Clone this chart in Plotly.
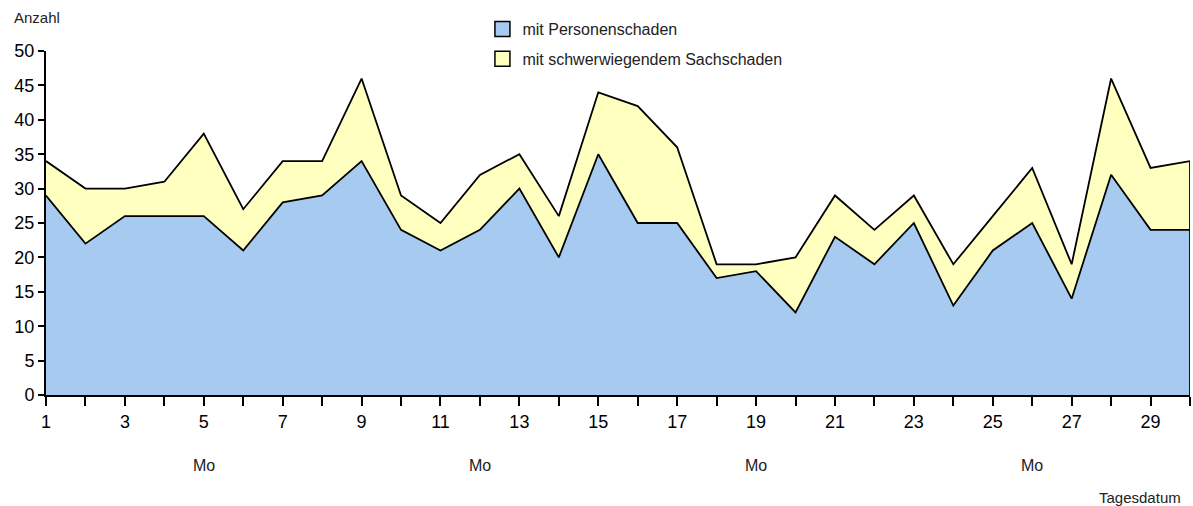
import plotly.graph_objects as go

days = list(range(1, 31))
personenschaden = [29, 22, 26, 26, 26, 21, 28, 29, 34, 24, 21, 24, 30, 20, 35,
                   25, 25, 17, 18, 12, 23, 19, 25, 13, 21, 25, 14, 32, 24, 24]
sachschaden = [5, 8, 4, 5, 12, 6, 6, 5, 12, 5, 4, 8, 5, 6, 9,
               17, 11, 2, 1, 8, 6, 5, 4, 6, 5, 8, 5, 14, 9, 10]
series_names = ["mit Personenschaden", "mit schwerwiegendem Sachschaden"]
series_colors = ["#A6CAF0", "#FFFFC0"]
tick_text = [str(d) if d % 2 == 1 else "" for d in days]
mondays = [5, 12, 19, 26]

FONT = "Liberation Sans"
LW = 1.8

fig = go.Figure()
for vals, name, col in zip([personenschaden, sachschaden], series_names, series_colors):
    fig.add_trace(go.Scatter(
        x=days, y=vals, stackgroup="one", mode="lines", name=name,
        line=dict(color="black", width=LW), fillcolor=col, showlegend=False,
    ))
# right edge of the area
fig.add_trace(go.Scatter(
    x=[days[-1], days[-1]],
    y=[0, personenschaden[-1] + sachschaden[-1]],
    mode="lines", line=dict(color="black", width=LW),
    showlegend=False, hoverinfo="skip",
))
# legend swatches (square boxes)
for i, (name, col) in enumerate(zip(series_names, series_colors)):
    fig.add_trace(go.Scatter(
        x=[None], y=[None], mode="markers", name=name, legendgroup=str(i),
        marker=dict(symbol="square", size=15, color=col,
                    line=dict(color="black", width=1.5)),
    ))

fig.update_layout(
    width=1193, height=506,
    margin=dict(l=46, r=3, t=51, b=111, autoexpand=False),
    paper_bgcolor="white", plot_bgcolor="white",
    font=dict(family=FONT, color="black"),
    showlegend=True,
    legend=dict(
        x=0.3815, y=1.113, xanchor="left", yanchor="top",
        bgcolor="rgba(0,0,0,0)", traceorder="grouped",
        font=dict(family=FONT, size=16, color="#222"),
        tracegroupgap=6, itemwidth=30,
    ),
    xaxis=dict(
        range=[1, 30], tickmode="array", tickvals=days, ticktext=tick_text,
        ticks="outside", ticklen=9, tickwidth=1.5, tickcolor="black",
        showline=True, linecolor="black", linewidth=2,
        showgrid=False, zeroline=False, automargin=False,
        tickfont=dict(family=FONT, size=18, color="black"),
    ),
    yaxis=dict(
        range=[0, 50], dtick=5, tick0=0,
        ticks="outside", ticklen=6, tickwidth=1.5, tickcolor="black",
        showline=True, linecolor="black", linewidth=2,
        showgrid=False, zeroline=False, automargin=False,
        tickfont=dict(family=FONT, size=18, color="black"),
    ),
)

fig.add_annotation(text="Anzahl", xref="paper", yref="paper", x=-0.0297, y=1.096,
                   xanchor="left", yanchor="middle", showarrow=False,
                   font=dict(family=FONT, size=15, color="#222"))
for m in mondays:
    fig.add_annotation(text="Mo", x=m, xref="x", yref="paper", y=-0.206,
                       xanchor="center", yanchor="middle", showarrow=False,
                       font=dict(family=FONT, size=16, color="#222"))
fig.add_annotation(text="Tagesdatum", xref="paper", yref="paper", x=0.994, y=-0.297,
                   xanchor="right", yanchor="middle", showarrow=False,
                   font=dict(family=FONT, size=15, color="#222"))

fig.write_html("out.html",
               config={"displayModeBar": False},
               post_script="document.body.style.margin='0';document.body.style.overflow='hidden';")
